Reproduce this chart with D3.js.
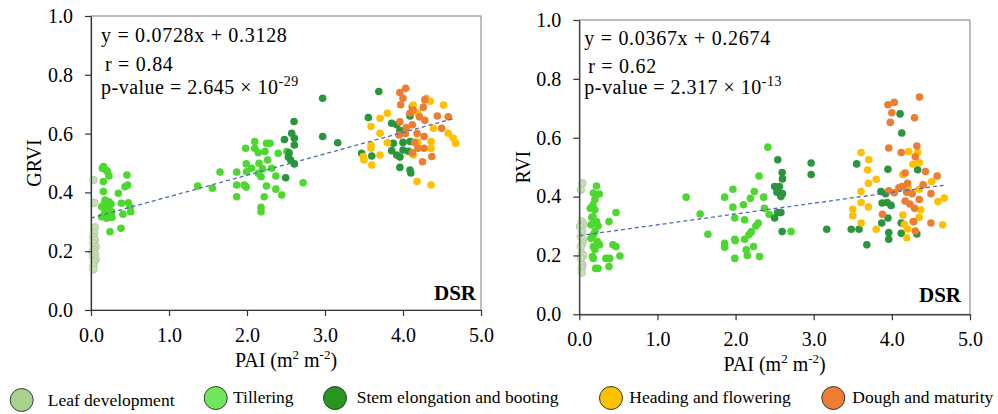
<!DOCTYPE html>
<html>
<head>
<meta charset="utf-8">
<script src="https://cdn.jsdelivr.net/npm/d3@7"></script>
<style>
  html, body { margin: 0; padding: 0; background: #fff; }
  svg { display: block; }
  text { font-family: "Liberation Serif", "Times New Roman", serif; }
</style>
</head>
<body>
<svg id="chart" width="998" height="414"></svg>
<script>
// ---------- DATA ----------
const stages = ["Leaf development", "Tillering", "Stem elongation and booting", "Heading and flowering", "Dough and maturity"];
const legendColors = ["#a9d18e", "#70e65a", "#26961e", "#ffc000", "#ed7d31"];
const pointColors = ["#c9ddb9", "#4cd82e", "#2a963c", "#ffc000", "#ed7d31"];
const xTicks = [0, 1, 2, 3, 4, 5];
const yTicks = [0, 0.2, 0.4, 0.6, 0.8, 1.0];

// GRVI panel: [PAI, GRVI]
const grviLeaf = [[0.03,0.442],[0.04,0.365],[0.05,0.281],[0.04,0.262],[0.03,0.249],[0.05,0.238],[0.03,0.227],[0.06,0.215],[0.04,0.205],[0.02,0.198],[0.05,0.19],[0.03,0.181],[0.06,0.172],[0.04,0.164],[0.03,0.15],[0.03,0.138]];
const grviTillering = [[0.145,0.482],[0.16,0.488],[0.2,0.474],[0.214,0.47],[0.23,0.456],[0.158,0.437],[0.46,0.459],[0.436,0.419],[0.47,0.425],[0.158,0.403],[0.35,0.397],[0.18,0.374],[0.23,0.368],[0.39,0.363],[0.478,0.365],[0.137,0.351],[0.19,0.35],[0.256,0.36],[0.18,0.334],[0.265,0.334],[0.41,0.326],[0.51,0.334],[0.5,0.351],[0.2,0.312],[0.27,0.315],[0.137,0.317],[0.23,0.33],[0.385,0.278],[0.243,0.266],[0.21,0.345],[0.25,0.32],[0.17,0.36],
  [1.368,0.422],[1.556,0.414],[1.654,0.469],[1.868,0.469],[1.868,0.425],[1.868,0.385],[1.983,0.55],[2.1,0.573],[2.1,0.55],[1.99,0.497],[1.995,0.47],[1.965,0.425],[1.99,0.418],[2.145,0.535],[2.154,0.499],[2.145,0.465],[2.25,0.567],[2.295,0.567],[2.23,0.539],[2.265,0.51],[2.18,0.453],[2.25,0.422],[2.22,0.385],[2.18,0.349],[2.18,0.334],[2.37,0.456],[2.37,0.411],[2.445,0.391],[2.4,0.533],[2.51,0.539],[2.72,0.433],[2.06,0.482],[2.317,0.482],[2.2,0.48]];
const grviStem = [[2.603,0.641],[2.573,0.601],[2.48,0.58],[2.607,0.584],[2.607,0.561],[2.54,0.535],[2.56,0.51],[2.607,0.497],[2.496,0.45],[2.53,0.52],[2.97,0.72],[2.97,0.59],[3.163,0.569],[3.556,0.655],[3.69,0.743],[3.47,0.533],[3.6,0.524],[3.855,0.635],[3.92,0.63],[3.876,0.567],[3.855,0.542],[3.92,0.527],[3.96,0.52],[4.0,0.544],[4.09,0.573],[3.96,0.485],[4.09,0.476],[4.1,0.466],[4.12,0.692],[4.09,0.66],[4.0,0.57],[4.07,0.54],[3.96,0.61]];
const grviHeading = [[3.8,0.669],[3.705,0.652],[3.59,0.624],[3.705,0.601],[3.8,0.569],[3.59,0.561],[3.59,0.55],[3.49,0.522],[3.5,0.51],[3.6,0.493],[3.705,0.527],[4.13,0.697],[4.19,0.67],[4.3,0.72],[4.35,0.71],[4.52,0.697],[4.39,0.618],[4.36,0.573],[4.36,0.55],[4.58,0.601],[4.645,0.584],[4.675,0.567],[4.13,0.527],[4.18,0.437],[4.36,0.425],[4.19,0.57]];
const grviDough = [[4.035,0.754],[3.96,0.74],[4.0,0.72],[3.97,0.698],[4.09,0.67],[4.13,0.68],[4.28,0.715],[4.26,0.69],[4.21,0.657],[4.28,0.645],[4.44,0.66],[4.58,0.657],[4.496,0.618],[3.96,0.64],[4.04,0.62],[4.12,0.63],[4.03,0.6],[4.18,0.6],[4.27,0.59],[4.15,0.57],[4.19,0.55],[4.27,0.55],[4.37,0.522],[4.25,0.504],[3.95,0.595],[4.12,0.535]];

// RVI panel: [PAI, RVI]
const rviLeaf = [[0.04,0.445],[0.02,0.423],[0.03,0.315],[0.05,0.305],[0.01,0.298],[0.04,0.281],[0.02,0.264],[0.05,0.253],[0.04,0.241],[0.02,0.23],[0.03,0.207],[0.05,0.2],[0.02,0.19],[0.04,0.168],[0.03,0.156],[0.03,0.142]];
const rviTillering = [[0.22,0.436],[0.18,0.412],[0.256,0.409],[0.2,0.39],[0.175,0.372],[0.14,0.36],[0.2,0.355],[0.47,0.346],[0.175,0.332],[0.22,0.315],[0.38,0.315],[0.15,0.304],[0.24,0.3],[0.2,0.281],[0.18,0.27],[0.15,0.258],[0.23,0.247],[0.26,0.236],[0.43,0.236],[0.18,0.23],[0.47,0.23],[0.24,0.24],[0.52,0.198],[0.17,0.196],[0.18,0.19],[0.34,0.19],[0.39,0.19],[0.38,0.162],[0.21,0.156],[0.24,0.156],[0.2,0.22],[0.16,0.33],
  [1.368,0.398],[1.547,0.341],[1.646,0.272],[1.86,0.398],[1.966,0.425],[1.966,0.364],[1.99,0.327],[1.86,0.241],[1.86,0.228],[1.99,0.255],[1.995,0.25],[1.99,0.19],[2.1,0.372],[2.115,0.321],[2.115,0.255],[2.136,0.219],[2.15,0.2],[2.17,0.27],[2.2,0.28],[2.23,0.23],[2.26,0.3],[2.29,0.31],[2.307,0.196],[2.3,0.47],[2.24,0.417],[2.19,0.394],[2.36,0.398],[2.37,0.36],[2.413,0.568],[2.71,0.281],[2.43,0.34]];
const rviStem = [[2.54,0.525],[2.596,0.482],[2.6,0.46],[2.5,0.434],[2.56,0.434],[2.53,0.415],[2.6,0.41],[2.58,0.4],[2.58,0.346],[2.54,0.346],[2.5,0.327],[2.596,0.281],[2.967,0.514],[2.967,0.475],[3.167,0.289],[3.48,0.289],[3.58,0.289],[3.68,0.236],[3.55,0.511],[3.95,0.493],[4.105,0.681],[4.127,0.616],[4.33,0.491],[3.86,0.417],[3.92,0.41],[3.875,0.378],[3.94,0.38],[3.99,0.37],[3.95,0.327],[3.87,0.31],[3.96,0.278],[3.96,0.255],[4.12,0.31],[4.12,0.275],[4.32,0.273]];
const rviHeading = [[3.606,0.55],[3.705,0.525],[3.69,0.49],[3.8,0.459],[3.7,0.445],[3.606,0.417],[3.606,0.38],[3.7,0.365],[3.5,0.357],[3.5,0.335],[3.606,0.31],[3.8,0.289],[4.215,0.553],[4.33,0.55],[4.35,0.515],[4.27,0.51],[4.14,0.475],[4.21,0.43],[4.35,0.425],[4.51,0.451],[4.59,0.383],[4.67,0.395],[4.65,0.304],[4.14,0.337],[4.16,0.305],[4.2,0.29],[4.19,0.26],[4.35,0.33],[4.37,0.355],[4.27,0.315]];
const rviDough = [[4.353,0.738],[4.03,0.72],[3.95,0.712],[4.0,0.685],[4.29,0.668],[3.98,0.652],[4.32,0.572],[3.96,0.565],[4.12,0.55],[4.3,0.535],[4.43,0.485],[4.58,0.47],[4.17,0.48],[4.4,0.44],[4.2,0.445],[4.13,0.434],[4.09,0.43],[4.03,0.413],[3.96,0.42],[4.19,0.415],[4.26,0.41],[4.35,0.39],[4.17,0.385],[4.23,0.375],[4.5,0.41],[4.5,0.31],[3.88,0.34],[4.29,0.36],[4.3,0.283],[4.28,0.315]];

// regression results
const grviFit = { slope: 0.0728, intercept: 0.3128, r: "0.84", p: "2.645", exp: "-29", xMax: 4.66 };
const rviFit  = { slope: 0.0367, intercept: 0.2674, r: "0.62", p: "2.317", exp: "-13", xMax: 4.66 };

// ---------- DRAW ----------
const svg = d3.select("#chart");
svg.append("rect").attr("width", 998).attr("height", 414).attr("fill", "#fff");

function drawPanel(cfg) {
  const x = d3.scaleLinear().domain([0, 5]).range([cfg.x0, cfg.x1]);
  const y = d3.scaleLinear().domain([0, 1]).range([cfg.yb, cfg.yt]);
  const g = svg.append("g");

  // frame
  g.append("rect")
    .attr("x", cfg.x0).attr("y", cfg.yt)
    .attr("width", cfg.x1 - cfg.x0).attr("height", cfg.yb - cfg.yt)
    .attr("fill", "none").attr("stroke", "#7f7f7f").attr("stroke-width", 1);

  // points
  cfg.series.forEach((data, i) => {
    g.append("g").selectAll("circle").data(data).join("circle")
      .attr("cx", d => x(d[0])).attr("cy", d => y(d[1]))
      .attr("r", 3.8)
      .attr("fill", pointColors[i])
      .attr("stroke", i === 0 ? "#aecb9c" : "none")
      .attr("stroke-width", i === 0 ? 0.9 : 0);
  });

  // regression line
  const f = cfg.fit;
  g.append("line")
    .attr("x1", x(0)).attr("y1", y(f.intercept))
    .attr("x2", x(f.xMax)).attr("y2", y(f.intercept + f.slope * f.xMax))
    .attr("stroke", "#4a6db5").attr("stroke-width", 1.3)
    .attr("stroke-dasharray", "4,3");

  // axes
  const ax = g.append("g").attr("transform", `translate(0,${cfg.yb})`)
    .call(d3.axisBottom(x).tickValues(xTicks).tickFormat(d3.format(".1f")).tickSize(6).tickSizeOuter(0).tickPadding(12));
  const ay = g.append("g").attr("transform", `translate(${cfg.x0},0)`)
    .call(d3.axisLeft(y).tickValues(yTicks).tickFormat(d3.format(".1f")).tickSize(6).tickSizeOuter(0).tickPadding(12));
  [ax, ay].forEach(a => {
    a.attr("color", "#333");
    a.selectAll("path, line").attr("stroke-width", 1.2);
    a.selectAll("text").attr("fill", "#000").style("font-family", '"Liberation Serif", serif').style("font-size", "20px");
  });

  // axis titles
  const xt = g.append("text")
    .attr("x", (cfg.x0 + cfg.x1) / 2).attr("y", cfg.yb + 57)
    .attr("text-anchor", "middle").attr("font-size", 20).attr("fill", "#000");
  xt.append("tspan").text("PAI (m");
  xt.append("tspan").text("2").attr("font-size", 13).attr("dy", -8);
  xt.append("tspan").text(" m").attr("dy", 8);
  xt.append("tspan").text("-2").attr("font-size", 13).attr("dy", -8);
  xt.append("tspan").text(")").attr("dy", 8);

  g.append("text")
    .attr("transform", `translate(${cfg.yLabelX},${(cfg.yb + cfg.yt) / 2}) rotate(-90)`)
    .attr("text-anchor", "middle").attr("dy", "0.35em")
    .attr("font-size", 20).attr("fill", "#000").text(cfg.yLabel);

  // annotations
  g.append("text").attr("x", cfg.x0 + cfg.eqDx).attr("y", cfg.yt + cfg.eqDy)
    .attr("font-size", 20).attr("letter-spacing", 0.7).attr("fill", "#000")
    .text(`y = ${f.slope}x + ${f.intercept}`);
  g.append("text").attr("x", cfg.x0 + cfg.eqDx + 4).attr("y", cfg.yt + cfg.rDy)
    .attr("font-size", 20).attr("letter-spacing", 0.7).attr("fill", "#000")
    .text(`r = ${f.r}`);
  const pt = g.append("text").attr("x", cfg.x0 + cfg.eqDx).attr("y", cfg.yt + cfg.pDy)
    .attr("font-size", 20).attr("letter-spacing", 0.5).attr("fill", "#000");
  pt.append("tspan").text(`p-value = ${f.p} \u00d7 10`);
  pt.append("tspan").text(f.exp).attr("font-size", 14).attr("dy", -8);

  g.append("text").attr("x", cfg.x1 - cfg.dsrDx).attr("y", cfg.yb - cfg.dsrDy)
    .attr("text-anchor", "end").attr("font-size", 21).attr("font-weight", "bold")
    .attr("fill", "#000").text("DSR");
}

drawPanel({
  x0: 91, x1: 481, yb: 310, yt: 16, yLabel: "GRVI", yLabelX: 34,
  series: [grviLeaf, grviTillering, grviStem, grviHeading, grviDough], fit: grviFit,
  eqDx: 10, eqDy: 26, rDy: 55, pDy: 78, dsrDx: 5, dsrDy: 10
});
drawPanel({
  x0: 579.3, x1: 970, yb: 314.3, yt: 20, yLabel: "RVI", yLabelX: 523,
  series: [rviLeaf, rviTillering, rviStem, rviHeading, rviDough], fit: rviFit,
  eqDx: 5, eqDy: 25, rDy: 53, pDy: 74, dsrDx: 9, dsrDy: 12
});

// legend
const legendCx = [21.7, 215.7, 335, 611, 833.3];
const legendCy = [400, 398, 398, 398, 398];
const legendTx = [47.7, 233, 356.7, 629.3, 852.3];
const legendTy = [406, 403, 403, 403, 403];
const lg = svg.append("g");
stages.forEach((s, i) => {
  lg.append("circle").attr("cx", legendCx[i]).attr("cy", legendCy[i]).attr("r", 11.5)
    .attr("fill", legendColors[i]).attr("stroke", "#3a3a3a").attr("stroke-width", 1);
  lg.append("text").attr("x", legendTx[i]).attr("y", legendTy[i])
    .attr("font-size", 17.5).attr("fill", "#000").text(s);
});
</script>
</body>
</html>
